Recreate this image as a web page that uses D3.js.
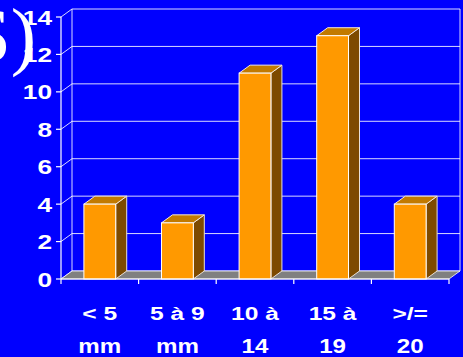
<!DOCTYPE html>
<html>
<head>
<meta charset="utf-8">
<script src="https://cdn.jsdelivr.net/npm/d3@7"></script>
<style>
  html, body { margin: 0; padding: 0; background: #0000ff; overflow: hidden; }
  svg { display: block; }
</style>
</head>
<body>
<svg id="chart" width="463" height="357"></svg>
<script>
// Size classes of the measured items
const categories = ["< 5 mm", "5 à 9 mm", "10 à 14", "15 à 19", ">/= 20"];
const labelTop = ["< 5", "5 à 9", "10 à", "15 à", ">/="];
const labelBottom = ["mm", "mm", "14", "19", "20"];
const values = [4, 3, 11, 13, 4];
const yTicks = [0, 2, 4, 6, 8, 10, 12, 14];

const W = 463, H = 357;
const svg = d3.select("#chart");

// Front plane of the 3D box and its depth offset
const plot = { left: 61, right: 449, top: 17, bottom: 279 };
const depth = { dx: 11, dy: -8 };

const x = d3.scaleBand().domain(categories).range([plot.left, plot.right]).padding(0);
const y = d3.scaleLinear().domain([0, 14]).range([plot.bottom, plot.top]);
const barW = x.bandwidth() * 0.41;

const colors = {
  bg: "#0000ff",
  front: "#ff9900",
  top: "#c27a00",
  side: "#7d4a00",
  floor: "#808080",
  line: "#ffffff"
};

// Title fragment at the upper left
svg.append("text")
  .attr("x", 36).attr("y", 61)
  .attr("text-anchor", "end")
  .attr("font-family", "'Liberation Serif', 'Times New Roman', serif")
  .attr("font-size", 76)
  .attr("fill", "#ffffff")
  .text("S)");

// Back wall grid lines and left wall diagonals
const grid = svg.append("g").attr("stroke", colors.line).attr("stroke-width", 1).attr("fill", "none");
yTicks.forEach(t => {
  grid.append("line")
    .attr("x1", plot.left + depth.dx).attr("x2", plot.right + depth.dx)
    .attr("y1", y(t) + depth.dy).attr("y2", y(t) + depth.dy)
    .attr("stroke-opacity", 0.85);
  grid.append("line")
    .attr("x1", plot.left).attr("y1", y(t))
    .attr("x2", plot.left + depth.dx).attr("y2", y(t) + depth.dy)
    .attr("stroke-opacity", 0.85);
});
// Back wall verticals
[plot.left + depth.dx, plot.right + depth.dx].forEach(xx => {
  grid.append("line")
    .attr("x1", xx).attr("x2", xx)
    .attr("y1", y(14) + depth.dy).attr("y2", y(0) + depth.dy)
    .attr("stroke-opacity", 0.85);
});

// Floor
const floorPts = [
  [plot.left, y(0)], [plot.right, y(0)],
  [plot.right + depth.dx, y(0) + depth.dy], [plot.left + depth.dx, y(0) + depth.dy]
];
svg.append("polygon")
  .attr("points", floorPts.map(p => p.join(",")).join(" "))
  .attr("fill", colors.floor)
  .attr("stroke", colors.line)
  .attr("stroke-width", 1)
  .attr("stroke-opacity", 0.8);

// 3D bars
const bars = svg.append("g").selectAll("g.bar")
  .data(categories.map((c, i) => ({ c, v: values[i] })))
  .join("g").attr("class", "bar");

bars.each(function(d) {
  const g = d3.select(this);
  const x0 = x(d.c) + (x.bandwidth() - barW) / 2;
  const x1 = x0 + barW;
  const yt = y(d.v), yb = y(0);
  const dx = depth.dx, dy = depth.dy;
  // side face
  g.append("polygon")
    .attr("points", [[x1, yb], [x1 + dx, yb + dy], [x1 + dx, yt + dy], [x1, yt]].map(p => p.join(",")).join(" "))
    .attr("fill", colors.side)
    .attr("stroke", "#e8e0d8").attr("stroke-width", 1).attr("stroke-linejoin", "round");
  // top face
  g.append("polygon")
    .attr("points", [[x0, yt], [x1, yt], [x1 + dx, yt + dy], [x0 + dx, yt + dy]].map(p => p.join(",")).join(" "))
    .attr("fill", colors.top)
    .attr("stroke", "#f4e8dc").attr("stroke-width", 1).attr("stroke-linejoin", "round");
  // front face
  g.append("rect")
    .attr("x", x0).attr("y", yt)
    .attr("width", barW).attr("height", yb - yt)
    .attr("fill", colors.front)
    .attr("stroke", "#ffffff").attr("stroke-width", 1);
});

// Front axes
const axes = svg.append("g").attr("stroke", colors.line).attr("stroke-width", 1.2);
axes.append("line")
  .attr("x1", plot.left).attr("x2", plot.left)
  .attr("y1", y(14)).attr("y2", y(0) + 5);
axes.append("line")
  .attr("x1", plot.left).attr("x2", plot.right)
  .attr("y1", y(0)).attr("y2", y(0));
yTicks.forEach(t => {
  axes.append("line")
    .attr("x1", plot.left - 5).attr("x2", plot.left)
    .attr("y1", y(t)).attr("y2", y(t));
});
categories.forEach(c => {
  const xx = x(c) + x.bandwidth();
  axes.append("line")
    .attr("x1", xx).attr("x2", xx)
    .attr("y1", y(0)).attr("y2", y(0) + 5);
});

// Y tick labels
const font = "'Liberation Sans', Arial, sans-serif";
svg.append("g").selectAll("text")
  .data(yTicks)
  .join("text")
  .attr("transform", t => `translate(52,${y(t) + 7.5}) scale(1.25,1)`)
  .attr("text-anchor", "end")
  .attr("font-family", font)
  .attr("font-weight", "bold")
  .attr("font-size", 21)
  .attr("fill", "#ffffff")
  .text(t => t);

// Category labels, two lines each
const labels = svg.append("g")
  .attr("font-family", font)
  .attr("font-weight", "bold")
  .attr("fill", "#ffffff")
  .attr("text-anchor", "middle");
categories.forEach((c, i) => {
  const cx = x(c) + x.bandwidth() / 2;
  labels.append("text")
    .attr("transform", `translate(${cx},320) scale(1.33,1)`)
    .attr("font-size", 18.5)
    .text(labelTop[i]);
  labels.append("text")
    .attr("transform", `translate(${cx},353) scale(1.15,1)`)
    .attr("font-size", 21)
    .text(labelBottom[i]);
});
</script>
</body>
</html>
